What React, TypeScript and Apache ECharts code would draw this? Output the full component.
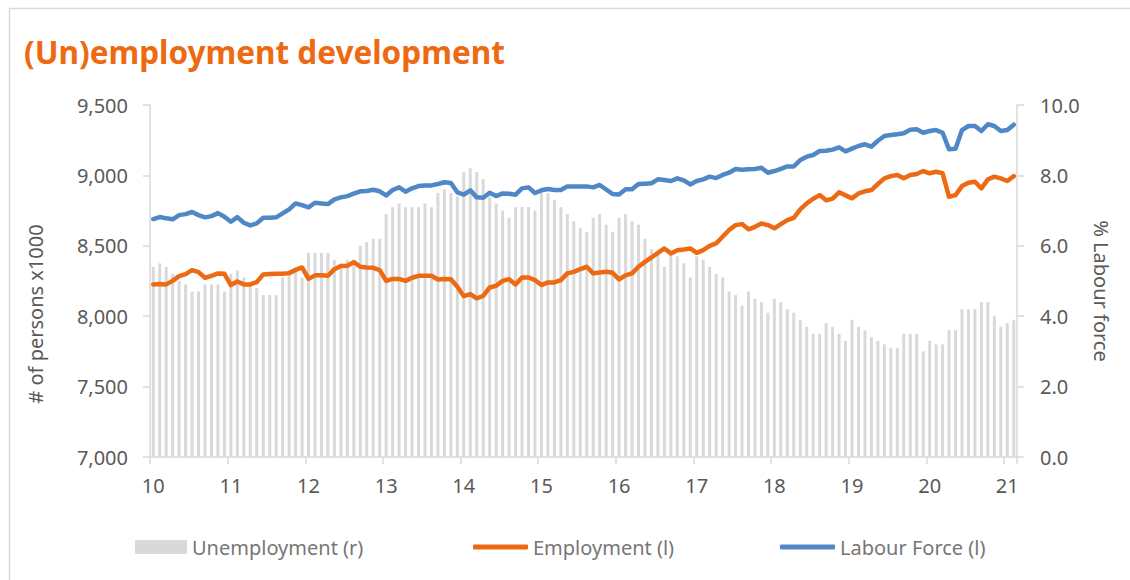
import React, { useEffect, useRef } from "react";
import * as echarts from "echarts";

// Year tick labels (axis starts Jan 2010, monthly data up to Feb 2021)
const yearLabels = ["10", "11", "12", "13", "14", "15", "16", "17", "18", "19", "20", "21"];

// Unemployment, % of labour force (right axis)
const unemployment = [
  5.4, 5.5, 5.4, 5.2, 5.0, 4.9, 4.7, 4.7, 4.9, 4.9, 4.9, 4.7,
  5.2, 5.3, 5.1, 4.9, 4.8, 4.6, 4.6, 4.6, 5.1, 5.2, 5.3, 5.1,
  5.8, 5.8, 5.8, 5.8, 5.6, 5.5, 5.6, 5.6, 6.0, 6.1, 6.2, 6.2,
  6.9, 7.1, 7.2, 7.1, 7.1, 7.1, 7.2, 7.1, 7.5, 7.6, 7.5, 7.4,
  8.1, 8.2, 8.1, 7.9, 7.4, 7.2, 7.0, 6.8, 7.1, 7.1, 7.1, 7.0,
  7.5, 7.5, 7.3, 7.1, 6.9, 6.7, 6.5, 6.4, 6.8, 6.9, 6.6, 6.4,
  6.8, 6.9, 6.7, 6.6, 6.2, 5.9, 5.8, 5.4, 5.8, 5.7, 5.5, 5.1,
  5.7, 5.6, 5.4, 5.2, 5.1, 4.7, 4.6, 4.3, 4.7, 4.5, 4.4, 4.1,
  4.5, 4.4, 4.2, 4.1, 3.9, 3.7, 3.5, 3.5, 3.8, 3.7, 3.5, 3.3,
  3.9, 3.7, 3.6, 3.4, 3.3, 3.2, 3.1, 3.1, 3.5, 3.5, 3.5, 3.0,
  3.3, 3.2, 3.2, 3.6, 3.6, 4.2, 4.2, 4.2, 4.4, 4.4, 4.0, 3.7,
  3.8, 3.9,
];

// Employment, x1000 persons (left axis)
const employment = [
  8226, 8228, 8226, 8251, 8285, 8299, 8327, 8313, 8273, 8287, 8304, 8301,
  8221, 8247, 8226, 8226, 8242, 8297, 8299, 8301, 8301, 8306, 8329, 8346,
  8265, 8290, 8290, 8287, 8334, 8356, 8358, 8384, 8351, 8346, 8344, 8327,
  8251, 8265, 8265, 8251, 8273, 8287, 8287, 8287, 8261, 8265, 8263, 8209,
  8142, 8157, 8126, 8145, 8204, 8216, 8251, 8263, 8226, 8275, 8275, 8256,
  8221, 8240, 8240, 8256, 8304, 8315, 8334, 8351, 8304, 8311, 8315, 8308,
  8261, 8290, 8304, 8351, 8386, 8417, 8450, 8481, 8446, 8469, 8474, 8481,
  8450, 8469, 8500, 8517, 8564, 8612, 8647, 8654, 8617, 8635, 8659, 8647,
  8624, 8654, 8683, 8699, 8759, 8801, 8834, 8860, 8823, 8835, 8880, 8858,
  8837, 8872, 8887, 8896, 8939, 8979, 8995, 9003, 8979, 9003, 9010, 9031,
  9015, 9026, 9015, 8848, 8860, 8924, 8948, 8955, 8908, 8972, 8991, 8979,
  8960, 8995,
];

// Labour force, x1000 persons (left axis)
const labourForce = [
  8690, 8704, 8695, 8688, 8718, 8725, 8740, 8718, 8702, 8711, 8732, 8706,
  8671, 8704, 8664, 8645, 8659, 8699, 8699, 8702, 8730, 8759, 8801, 8789,
  8773, 8806, 8801, 8796, 8830, 8844, 8853, 8870, 8887, 8889, 8898, 8887,
  8858, 8896, 8915, 8884, 8908, 8924, 8929, 8929, 8939, 8951, 8946, 8880,
  8863, 8894, 8844, 8841, 8877, 8853, 8872, 8870, 8863, 8908, 8915, 8875,
  8894, 8903, 8896, 8896, 8922, 8922, 8922, 8922, 8915, 8932, 8900, 8868,
  8865, 8901, 8901, 8939, 8941, 8944, 8972, 8967, 8960, 8979, 8965, 8936,
  8960, 8972, 8991, 8981, 9003, 9019, 9045, 9040, 9043, 9045, 9054, 9019,
  9031, 9047, 9064, 9064, 9109, 9133, 9145, 9173, 9175, 9183, 9199, 9171,
  9190, 9209, 9221, 9204, 9246, 9280, 9287, 9292, 9299, 9325, 9327, 9303,
  9315, 9322, 9303, 9185, 9190, 9322, 9351, 9351, 9315, 9363, 9351, 9315,
  9322, 9360,
];

const seriesNames = ["Unemployment (r)", "Employment (l)", "Labour Force (l)"];

const allMonths: string[] = [];
yearLabels.forEach((y) => {
  for (let m = 1; m <= 12; m++) allMonths.push(`${y}-${m}`);
});
const categories = allMonths.slice(0, unemployment.length);

const FONT = "'Noto Sans', 'Open Sans', sans-serif";
const ORANGE = "#ED6A12";
const BLUE = "#4F87C7";
const GREY_BAR = "#D9D9D9";
const AXIS = "#D9D9D9";
const TEXT = "#595959";
const LEGEND_TEXT = "#767676";

export default function App() {
  const ref = useRef<HTMLDivElement>(null);

  useEffect(() => {
    document.body.style.margin = "0";
    if (!ref.current) return;
    const chart = echarts.init(ref.current, undefined, { renderer: "svg" });

    const axisLineStyle = { color: AXIS, width: 1.5 };
    const yearTick = (i: number) => i % 12 === 0;
    const legendText = { color: LEGEND_TEXT, fontSize: 20, fontFamily: FONT };

    chart.setOption({
      animation: false,
      backgroundColor: "#ffffff",
      title: {
        text: "(Un)employment development",
        left: 19,
        top: 30,
        textStyle: { color: ORANGE, fontSize: 31.5, fontWeight: "bold", fontFamily: FONT },
      },
      grid: { left: 150, right: 113, top: 105, bottom: 123, containLabel: false },
      legend: [
        {
          data: [{ name: seriesNames[0], icon: "rect" }],
          left: 130,
          top: 532,
          itemWidth: 52,
          itemHeight: 14,
          textStyle: legendText,
        },
        {
          data: [{ name: seriesNames[1], icon: "roundRect" }],
          left: 468,
          top: 532,
          itemWidth: 55,
          itemHeight: 5,
          textStyle: legendText,
        },
        {
          data: [{ name: seriesNames[2], icon: "roundRect" }],
          left: 775,
          top: 532,
          itemWidth: 55,
          itemHeight: 5,
          textStyle: legendText,
        },
      ],
      xAxis: {
        type: "category",
        data: categories,
        boundaryGap: true,
        axisLine: { show: true, lineStyle: axisLineStyle },
        axisTick: { show: true, interval: yearTick, length: 7, lineStyle: axisLineStyle },
        axisLabel: {
          interval: yearTick,
          formatter: (v: string) => v.split("-")[0],
          color: TEXT,
          fontSize: 20,
          fontFamily: FONT,
          margin: 18,
        },
        splitLine: { show: false },
      },
      yAxis: [
        {
          type: "value",
          position: "left",
          min: 7000,
          max: 9500,
          interval: 500,
          axisLine: { show: true, lineStyle: axisLineStyle },
          axisTick: { show: true, length: 7, lineStyle: axisLineStyle },
          splitLine: { show: false },
          axisLabel: {
            formatter: (v: number) => v.toLocaleString("en-US"),
            color: TEXT,
            fontSize: 20,
            fontFamily: FONT,
            margin: 22,
          },
        },
        {
          type: "value",
          position: "right",
          min: 0,
          max: 10,
          interval: 2,
          axisLine: { show: true, lineStyle: axisLineStyle },
          axisTick: { show: true, length: 7, lineStyle: axisLineStyle },
          splitLine: { show: false },
          axisLabel: {
            formatter: (v: number) => v.toFixed(1),
            color: TEXT,
            fontSize: 20,
            fontFamily: FONT,
            margin: 23,
          },
        },
      ],
      series: [
        {
          name: seriesNames[0],
          type: "bar",
          yAxisIndex: 1,
          data: unemployment,
          barWidth: 3,
          itemStyle: { color: GREY_BAR },
          z: 1,
        },
        {
          name: seriesNames[1],
          type: "line",
          yAxisIndex: 0,
          data: employment,
          symbol: "none",
          lineStyle: { color: ORANGE, width: 4.5, cap: "round", join: "round" },
          itemStyle: { color: ORANGE },
          z: 3,
        },
        {
          name: seriesNames[2],
          type: "line",
          yAxisIndex: 0,
          data: labourForce,
          symbol: "none",
          lineStyle: { color: BLUE, width: 4.5, cap: "round", join: "round" },
          itemStyle: { color: BLUE },
          z: 3,
        },
      ],
      graphic: [
        {
          type: "rect",
          left: 7,
          top: 6,
          shape: { x: 0, y: 0, width: 1140, height: 600 },
          style: { fill: "none", stroke: "#D9D9D9", lineWidth: 1.5 },
          silent: true,
        },
        {
          type: "text",
          x: 35,
          y: 314,
          rotation: Math.PI / 2,
          style: {
            text: "# of persons x1000",
            fill: TEXT,
            fontSize: 20,
            fontFamily: FONT,
            align: "center",
            verticalAlign: "middle",
          },
        },
        {
          type: "text",
          x: 1101,
          y: 291,
          rotation: -Math.PI / 2,
          style: {
            text: "% Labour force",
            fill: TEXT,
            fontSize: 20,
            fontFamily: FONT,
            align: "center",
            verticalAlign: "middle",
          },
        },
      ],
    });

    return () => chart.dispose();
  }, []);

  return <div ref={ref} style={{ width: 1130, height: 580 }} />;
}
